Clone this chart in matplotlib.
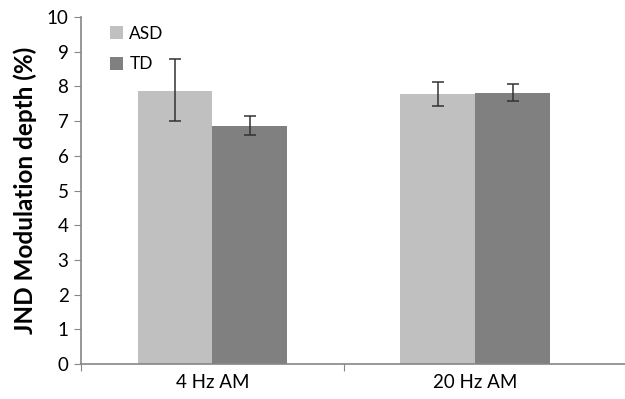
import numpy as np
import matplotlib.pyplot as plt

plt.rcParams['font.family'] = ['Lato', 'DejaVu Sans']

# data
conditions = ['4 Hz AM', '20 Hz AM']
groups = ['ASD', 'TD']
asd_mean = [7.87, 7.77]
asd_low = [6.99, 7.44]
asd_high = [8.78, 8.12]
td_mean = [6.86, 7.82]
td_low = [6.60, 7.59]
td_high = [7.16, 8.07]

colors = ['#c0c0c0', '#808080']
axis_col = '#868686'

fig = plt.figure(figsize=(6.25, 3.99), dpi=100)
ax = fig.add_axes([0.1296, 0.0877, 0.8704, 0.8697])

x = np.arange(len(conditions))
w = 0.285

means = [asd_mean, td_mean]
lows = [asd_low, td_low]
highs = [asd_high, td_high]
for i, g in enumerate(groups):
    m = np.array(means[i])
    err = [m - np.array(lows[i]), np.array(highs[i]) - m]
    pos = x + (i - 0.5) * w
    ax.bar(pos, m, width=w, color=colors[i], label=g, zorder=2)
    ax.errorbar(pos, m, yerr=err, fmt='none', ecolor='#333333',
                elinewidth=1.1, capsize=4, capthick=1.1, zorder=3)

ax.set_ylim(0, 10)
ax.set_yticks(range(0, 11))
ax.set_xlim(-0.5, 1.57)
ax.set_xticks([-0.5, 0.5])
ax.set_xticklabels([])
ax.set_xticks(x, minor=True)
ax.set_xticklabels(conditions, minor=True, fontsize=13.5)
ax.tick_params(axis='x', which='minor', length=0, pad=7)
ax.tick_params(axis='x', which='major', length=5, direction='out', color=axis_col)
ax.tick_params(axis='y', length=5, color=axis_col, labelsize=13.5, pad=4)

for s in ['top', 'right']:
    ax.spines[s].set_visible(False)
for s in ['left', 'bottom']:
    ax.spines[s].set_color(axis_col)
    ax.spines[s].set_linewidth(1.2)

ax.set_ylabel('JND Modulation depth (%)', fontsize=17.5, fontweight='bold', labelpad=7)

ax.legend(loc='upper left', bbox_to_anchor=(0.025, 1.02), frameon=False,
          fontsize=12.5, handlelength=0.75, handleheight=0.75, handletextpad=0.35,
          labelspacing=0.85)

fig.savefig('out.png', dpi=100)
